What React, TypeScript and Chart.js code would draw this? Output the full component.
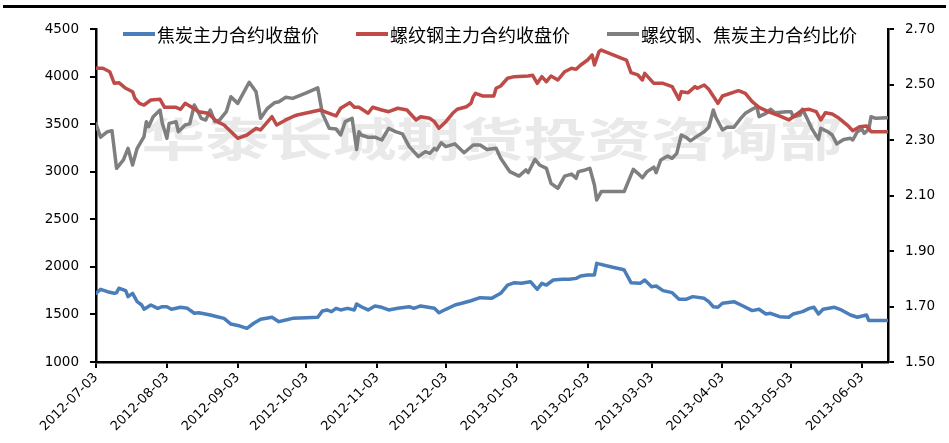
import React, { useEffect, useRef } from "react";
import { Chart, registerables } from "chart.js";

Chart.register(...registerables);

// ---------- data ----------
const START = "2012-07-03";
const tickDates = [
  "2012-07-03", "2012-08-03", "2012-09-03", "2012-10-03", "2012-11-03", "2012-12-03",
  "2013-01-03", "2013-02-03", "2013-03-03", "2013-04-03", "2013-05-03", "2013-06-03",
];
const legendLabels = ["焦炭主力合约收盘价", "螺纹钢主力合约收盘价", "螺纹钢、焦炭主力合约比价"];
const watermark = "华泰长城期货投资咨询部";

// days since 2012-07-03
const cokeDays = [0, 2, 5, 8, 9, 10, 13, 14, 16, 18, 20, 21, 24, 27, 29, 31, 33, 37, 40, 43, 45, 50, 53, 56, 59, 63, 66, 69, 72, 77, 80, 83, 86, 92, 97, 99, 101, 103, 105, 107, 110, 113, 114, 116, 119, 122, 125, 128, 132, 137, 139, 142, 148, 150, 153, 157, 160, 164, 168, 173, 177, 180, 183, 186, 190, 193, 195, 197, 200, 204, 207, 210, 212, 215, 218, 219, 226, 230, 231, 234, 238, 240, 243, 245, 248, 252, 255, 258, 261, 266, 268, 270, 272, 274, 279, 283, 287, 290, 293, 295, 299, 303, 305, 309, 312, 314, 316, 318, 323, 326, 330, 333, 337, 338, 346];
const cokeClose = [1722, 1764, 1739, 1722, 1729, 1775, 1750, 1687, 1722, 1634, 1599, 1554, 1599, 1564, 1581, 1581, 1554, 1575, 1564, 1512, 1518, 1494, 1476, 1459, 1399, 1378, 1354, 1407, 1449, 1470, 1424, 1442, 1459, 1466, 1470, 1536, 1547, 1529, 1564, 1547, 1564, 1547, 1610, 1581, 1547, 1589, 1575, 1547, 1564, 1581, 1564, 1589, 1564, 1518, 1554, 1599, 1617, 1644, 1676, 1669, 1722, 1809, 1834, 1827, 1844, 1764, 1827, 1809, 1862, 1869, 1869, 1879, 1904, 1915, 1915, 2037, 1996, 1975, 1967, 1834, 1827, 1862, 1792, 1799, 1750, 1729, 1659, 1659, 1687, 1669, 1634, 1581, 1575, 1617, 1634, 1589, 1540, 1554, 1505, 1512, 1476, 1470, 1505, 1529, 1564, 1575, 1505, 1554, 1575, 1547, 1494, 1470, 1494, 1435, 1435];

const rebarDays = [0, 3, 6, 8, 10, 13, 16, 17, 19, 21, 24, 28, 30, 35, 37, 39, 41, 45, 49, 53, 56, 62, 66, 70, 72, 77, 79, 83, 86, 88, 98, 100, 102, 105, 107, 111, 113, 115, 119, 121, 125, 128, 132, 136, 138, 140, 142, 146, 148, 150, 153, 156, 158, 162, 164, 165, 166, 169, 174, 175, 177, 180, 183, 189, 191, 193, 195, 197, 199, 202, 205, 208, 210, 212, 215, 217, 218, 220, 221, 230, 232, 234, 237, 239, 240, 244, 248, 252, 255, 256, 259, 262, 263, 266, 268, 272, 274, 281, 284, 287, 290, 294, 299, 303, 306, 309, 312, 315, 317, 319, 322, 325, 329, 331, 334, 337, 339, 346];
const rebarClose = [4087, 4087, 4051, 3929, 3936, 3877, 3841, 3772, 3719, 3701, 3754, 3761, 3677, 3677, 3656, 3719, 3691, 3631, 3614, 3526, 3491, 3351, 3386, 3456, 3439, 3578, 3491, 3544, 3578, 3596, 3649, 3631, 3614, 3586, 3667, 3726, 3677, 3677, 3614, 3677, 3649, 3631, 3667, 3649, 3596, 3544, 3578, 3561, 3526, 3456, 3526, 3614, 3656, 3683, 3719, 3789, 3824, 3796, 3796, 3877, 3901, 3982, 3999, 4006, 4013, 3929, 3999, 3946, 4006, 3964, 4051, 4087, 4076, 4122, 4174, 4227, 4122, 4262, 4279, 4192, 4174, 4041, 4017, 3964, 4034, 3929, 3929, 3894, 3761, 3841, 3831, 3894, 3877, 3911, 3866, 3719, 3796, 3852, 3824, 3736, 3677, 3631, 3586, 3544, 3596, 3649, 3656, 3631, 3544, 3620, 3607, 3561, 3481, 3431, 3473, 3481, 3421, 3421];

const ratioDays = [0, 2, 5, 7, 9, 12, 14, 16, 18, 21, 22, 23, 25, 28, 29, 31, 32, 35, 36, 39, 41, 43, 45, 46, 48, 50, 52, 54, 57, 59, 62, 67, 70, 72, 75, 78, 80, 83, 86, 92, 97, 99, 102, 105, 107, 109, 112, 114, 115, 116, 119, 122, 125, 128, 131, 134, 137, 141, 144, 146, 148, 149, 151, 153, 157, 161, 165, 168, 171, 175, 177, 181, 185, 188, 189, 192, 194, 197, 199, 202, 205, 208, 210, 211, 214, 216, 218, 219, 221, 231, 235, 237, 239, 241, 244, 245, 247, 250, 252, 254, 256, 258, 260, 263, 266, 268, 270, 271, 274, 276, 279, 282, 284, 287, 289, 290, 293, 295, 297, 302, 304, 305, 308, 309, 311, 313, 316, 317, 320, 322, 324, 327, 330, 331, 333, 335, 336, 338, 339, 341, 346];
const ratio = [2.358, 2.31, 2.33, 2.333, 2.198, 2.228, 2.27, 2.21, 2.27, 2.312, 2.366, 2.348, 2.384, 2.408, 2.36, 2.306, 2.36, 2.366, 2.33, 2.354, 2.358, 2.426, 2.396, 2.378, 2.372, 2.408, 2.366, 2.372, 2.402, 2.456, 2.432, 2.508, 2.474, 2.378, 2.414, 2.434, 2.438, 2.454, 2.45, 2.47, 2.488, 2.396, 2.342, 2.34, 2.318, 2.366, 2.378, 2.266, 2.33, 2.318, 2.31, 2.31, 2.3, 2.342, 2.33, 2.322, 2.276, 2.24, 2.258, 2.252, 2.27, 2.264, 2.29, 2.276, 2.286, 2.254, 2.282, 2.282, 2.266, 2.27, 2.234, 2.186, 2.17, 2.192, 2.182, 2.23, 2.21, 2.198, 2.144, 2.126, 2.17, 2.177, 2.162, 2.186, 2.192, 2.198, 2.138, 2.084, 2.114, 2.114, 2.194, 2.18, 2.164, 2.186, 2.202, 2.182, 2.228, 2.242, 2.234, 2.252, 2.318, 2.31, 2.297, 2.314, 2.33, 2.346, 2.408, 2.384, 2.336, 2.346, 2.346, 2.378, 2.396, 2.411, 2.42, 2.384, 2.396, 2.411, 2.398, 2.402, 2.402, 2.384, 2.39, 2.411, 2.378, 2.342, 2.302, 2.342, 2.33, 2.318, 2.286, 2.302, 2.306, 2.3, 2.33, 2.339, 2.324, 2.339, 2.384, 2.378, 2.38];

const colors = ["#4A7EBB", "#BE4B48", "#7F7F7F"];

// ---------- helpers ----------
function dayOf(d: string): number {
  const [y, m, dd] = d.split("-").map(Number);
  const [y0, m0, d0] = START.split("-").map(Number);
  return Math.round((Date.UTC(y, m - 1, dd) - Date.UTC(y0, m0 - 1, d0)) / 86400000);
}
const tickDays = tickDates.map(dayOf);
const pts = (xs: number[], ys: number[]) => xs.map((x, i) => ({ x, y: ys[i] }));

const NUM_FONT = '"DejaVu Sans", sans-serif';
const CJK_FONT = '"Noto Sans CJK SC", sans-serif';

const decorPlugin = {
  id: "decor",
  beforeDatasetsDraw(chart: any) {
    const { ctx, chartArea } = chart;
    ctx.save();
    ctx.fillStyle = "#e9e9e9";
    ctx.font = `bold 46px ${CJK_FONT}`;
    ctx.textAlign = "center";
    ctx.textBaseline = "middle";
    const cx = (chartArea.left + chartArea.right) / 2;
    ctx.translate(cx, chartArea.top + 110);
    ctx.scale(1.385, 1);
    ctx.fillText(watermark, 0, 0);
    ctx.restore();
  },
  afterDraw(chart: any) {
    const { ctx, chartArea } = chart;
    ctx.save();
    // top frame line
    ctx.fillStyle = "#000";
    ctx.fillRect(3, 5, chart.width - 6, 3);
    // legend
    ctx.font = `18px ${CJK_FONT}`;
    ctx.textBaseline = "middle";
    ctx.textAlign = "left";
    let x = chartArea.left + 27;
    const y = chartArea.top + 5;
    legendLabels.forEach((lab, i) => {
      ctx.strokeStyle = colors[i];
      ctx.lineWidth = 4;
      ctx.beginPath();
      ctx.moveTo(x, y);
      ctx.lineTo(x + 32, y);
      ctx.stroke();
      ctx.fillStyle = "#000";
      ctx.fillText(lab, x + 34, y + 1);
      x += 34 + ctx.measureText(lab).width + 37;
    });
    ctx.restore();
  },
};

export default function App() {
  const ref = useRef<HTMLCanvasElement | null>(null);
  useEffect(() => {
    if (!ref.current) return;
    const axisGrid = {
      drawOnChartArea: false,
      drawTicks: true,
      tickLength: 6,
      color: "#000",
      lineWidth: 2,
    };
    const chart = new Chart(ref.current, {
      type: "line",
      data: {
        datasets: [
          { label: legendLabels[0], data: pts(cokeDays, cokeClose), borderColor: colors[0], yAxisID: "y" },
          { label: legendLabels[1], data: pts(rebarDays, rebarClose), borderColor: colors[1], yAxisID: "y" },
          { label: legendLabels[2], data: pts(ratioDays, ratio), borderColor: colors[2], yAxisID: "y1" },
        ] as any,
      },
      options: {
        animation: false,
        responsive: false,
        devicePixelRatio: 1,
        layout: { padding: { top: 29, left: 0, right: 0, bottom: 0 } },
        elements: {
          line: { borderWidth: 3.5, tension: 0, borderCapStyle: "round", borderJoinStyle: "round" },
          point: { radius: 0, hoverRadius: 0 },
        },
        plugins: { legend: { display: false }, tooltip: { enabled: false } },
        scales: {
          x: {
            type: "linear",
            min: 0,
            max: 346.4,
            afterBuildTicks: (s: any) => {
              s.ticks = tickDays.map((v) => ({ value: v }));
            },
            afterFit: (s: any) => {
              s.height = 81;
            },
            ticks: {
              autoSkip: false,
              minRotation: 45,
              maxRotation: 45,
              padding: 2,
              color: "#000",
              font: { family: NUM_FONT, size: 13 },
              callback: (_v: any, i: number) => tickDates[i],
            },
            grid: axisGrid,
            border: { color: "#000", width: 2.5 },
          },
          y: {
            type: "linear",
            position: "left",
            min: 1000,
            max: 4500,
            afterFit: (s: any) => {
              s.width = 96;
            },
            ticks: {
              stepSize: 500,
              padding: 11,
              color: "#000",
              font: { family: NUM_FONT, size: 13.5 },
              callback: (v: any) => String(v),
            },
            grid: axisGrid,
            border: { color: "#000", width: 2.5 },
          },
          y1: {
            type: "linear",
            position: "right",
            min: 1.5,
            max: 2.7,
            afterFit: (s: any) => {
              s.width = 61;
            },
            ticks: {
              stepSize: 0.2,
              padding: 11,
              color: "#000",
              font: { family: NUM_FONT, size: 13.5 },
              callback: (v: any) => Number(v).toFixed(2),
            },
            grid: axisGrid,
            border: { color: "#000", width: 2.5 },
          },
        },
      } as any,
      plugins: [decorPlugin],
    });
    return () => chart.destroy();
  }, []);
  return (
    <div style={{ position: "fixed", left: 0, top: 0, width: 949, height: 443, background: "#fff" }}>
      <canvas ref={ref} width={949} height={443} style={{ display: "block", width: 949, height: 443 }} />
    </div>
  );
}
